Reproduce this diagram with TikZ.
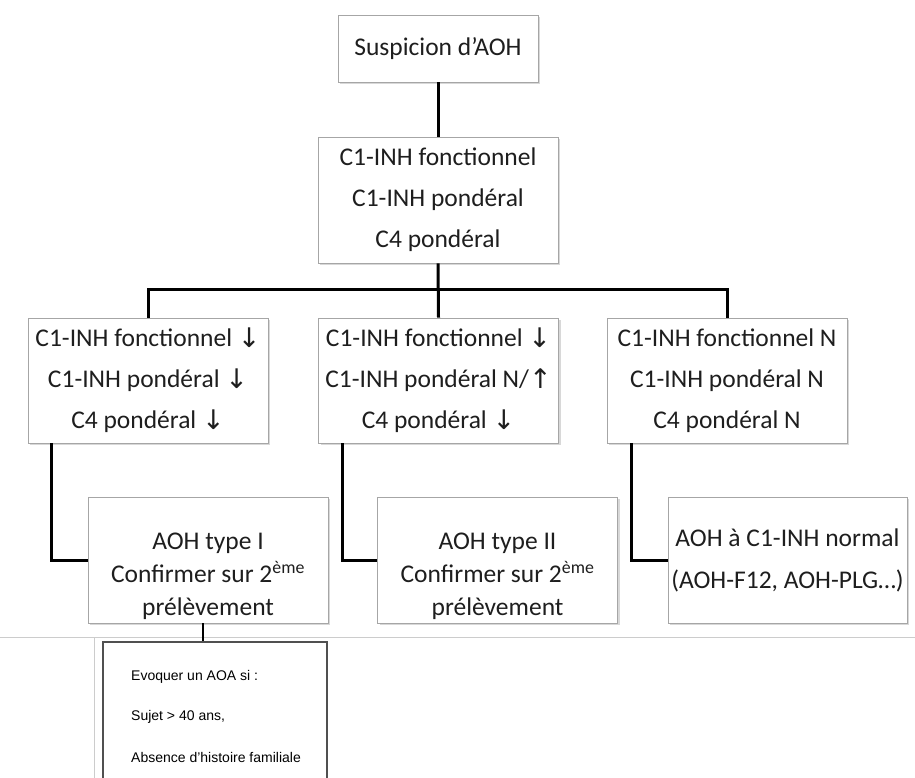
\documentclass[tikz,border=0pt]{standalone}
\usepackage{fontspec}
\setmainfont{Carlito}
\newfontfamily\arrowfont{DejaVu Sans}
\newfontfamily\arialfont{Liberation Sans}
\usetikzlibrary{shadows}
\definecolor{boxgrey}{HTML}{A6A6A6}
\definecolor{textcol}{HTML}{1E1E1E}
\definecolor{rulegrey}{HTML}{CCCCCC}
\definecolor{darkframe}{HTML}{505050}
\newcommand{\arrdn}{{\arrowfont\fontsize{27}{27}\selectfont\raisebox{-1pt}{↓}}}
\newcommand{\arrup}{{\arrowfont\fontsize{27}{27}\selectfont\raisebox{-1pt}{↑}}}
\tikzset{
  box/.style={draw=boxgrey, line width=0.8pt, fill=white,
    minimum width=240pt, minimum height=126pt, inner sep=0pt,
    align=center, text=textcol, font=\fontsize{25.5}{41}\selectfont,
    drop shadow={shadow xshift=2pt, shadow yshift=-2pt, opacity=0.3}},
  txt/.style={inner sep=0pt, align=center, text=textcol,
    font=\fontsize{25.5}{33}\selectfont},
  conn/.style={line width=3pt, black},
  note/.style={inner sep=0pt, anchor=base west, text=black,
    font=\arialfont\fontsize{14}{16}\selectfont}
}
\begin{document}
\begin{tikzpicture}[x=1pt, y=-1pt]
\useasboundingbox (0,0) rectangle (915,778);
\clip (0,0) rectangle (915,778);
\fill[white] (0,0) rectangle (915,778);

% boxes
\node[box, minimum width=200pt, minimum height=67pt] (b1) at (438,48.5) {Suspicion d’AOH};
\node[box] (b2) at (438,200) {C1-INH fonctionnel\\C1-INH pondéral\\C4 pondéral};
\node[box, minimum height=125pt] (b3a) at (148,380.5) {C1-INH fonctionnel \arrdn\\C1-INH pondéral \arrdn\\C4 pondéral \arrdn};
\node[box, minimum height=125pt] (b3b) at (438.5,380.5) {C1-INH fonctionnel \arrdn\\C1-INH pondéral N/\arrup\\C4 pondéral \arrdn};
\node[box, minimum height=125pt] (b3c) at (727,380.5) {C1-INH fonctionnel N\\C1-INH pondéral N\\C4 pondéral N};
\node[box] (b4a) at (208,560) {};
\node[txt] (t4a) at (208,576) {AOH type I\\Confirmer sur 2\textsuperscript{ème}\\prélèvement};
\node[box] (b4b) at (497.5,560) {};
\node[txt] (t4b) at (497.5,576) {AOH type II\\Confirmer sur 2\textsuperscript{ème}\\prélèvement};
\node[box, minimum width=239pt, font=\fontsize{25.5}{42}\selectfont] (b4c) at (787.5,560) {AOH à C1-INH normal\\(AOH-F12, AOH-PLG…)};

% connectors
\draw[conn] (b1.south) -- (b2.north);
\draw[conn] (b2.south) -- (b3b.north);
\draw[conn] (b3a.north) -- ++(0,-28) -| (b3c.north);
\draw[conn] ([xshift=24pt]b3a.south west) |- (b4a.west);
\draw[conn] ([xshift=24pt]b3b.south west) |- (b4b.west);
\draw[conn] ([xshift=25pt]b3c.south west) |- (b4c.west);

% lower framed note
\draw[rulegrey, line width=0.8pt] (0,637) -- (915,637);
\draw[rulegrey, line width=0.8pt] (94,637) -- (94,778);
\node[draw=darkframe, line width=1.3pt, fill=white, minimum width=224pt,
      minimum height=160pt, inner sep=0pt] (b5) at (215,722) {};
\coordinate (k) at (203,0);
\draw[line width=2.5pt, black] (b4a.south -| k) -- (b5.north -| k);
\node[note] (n1) at (131,680) {Evoquer un AOA si :};
\node[note] (n2) at (131,720) {Sujet > 40 ans,};
\node[note] (n3) at (131,762) {Absence d’histoire familiale};
\end{tikzpicture}
\end{document}
